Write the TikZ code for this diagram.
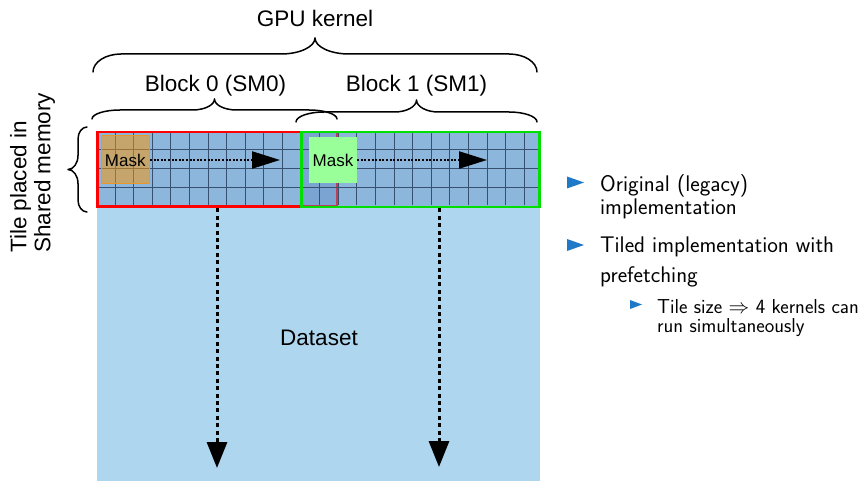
\documentclass[tikz,border=0pt]{standalone}
\usepackage{fontspec}
\setmainfont{Liberation Sans}
\usetikzlibrary{arrows.meta}
\definecolor{datacol}{RGB}{174,214,238}
\definecolor{tilecol}{RGB}{102,144,199}
\definecolor{gridcol}{RGB}{55,80,112}
\definecolor{redcol}{RGB}{255,0,0}
\definecolor{greencol}{RGB}{0,224,0}
\definecolor{orangecol}{RGB}{255,150,0}
\definecolor{orangeedge}{RGB}{235,150,40}
\definecolor{lightgreen}{RGB}{153,255,153}
\definecolor{bulcol}{RGB}{30,122,200}
\newcommand\mybraceh[7]{%
 \draw[brc] (#1,#3) .. controls (#1,{#3-0.55*(#3-#4)}) and ({#1+0.45*#6},#4) .. ({#1+#6},#4)
  -- ({(#1+#2)/2-#7},#4) .. controls ({(#1+#2)/2-0.45*#7},#4) and ({(#1+#2)/2},{#4-0.45*(#4-#5)}) .. ({(#1+#2)/2},#5)
  .. controls ({(#1+#2)/2},{#4-0.45*(#4-#5)}) and ({(#1+#2)/2+0.45*#7},#4) .. ({(#1+#2)/2+#7},#4)
  -- ({#2-#6},#4) .. controls ({#2-0.45*#6},#4) and (#2,{#3-0.55*(#3-#4)}) .. (#2,#3);}
\newcommand\mybracev[7]{%
 \draw[brc] (#3,#1) .. controls ({#3-0.55*(#3-#4)},#1) and (#4,{#1+0.45*#6}) .. (#4,{#1+#6})
  -- (#4,{(#1+#2)/2-#7}) .. controls (#4,{(#1+#2)/2-0.45*#7}) and ({#4-0.45*(#4-#5)},{(#1+#2)/2}) .. (#5,{(#1+#2)/2})
  .. controls ({#4-0.45*(#4-#5)},{(#1+#2)/2}) and (#4,{(#1+#2)/2+0.45*#7}) .. (#4,{(#1+#2)/2+#7})
  -- (#4,{#2-#6}) .. controls (#4,{#2-0.45*#6}) and ({#3-0.55*(#3-#4)},#2) .. (#3,#2);}
\begin{document}
\begin{tikzpicture}[x=1pt,y=-1pt,
  lbl/.style={font=\fontsize{22.5}{24}\selectfont, inner sep=0pt},
  masklbl/.style={font=\fontsize{17}{19}\selectfont, inner sep=0pt},
  brc/.style={line width=1.5pt, line cap=round, line join=round},
  gridline/.style={draw=gridcol, line width=0.9pt},
  dotarrow/.style={line width=2.2pt, dash pattern=on 2pt off 1.6pt, -{Triangle[length=28pt,width=17pt]}},
  dasharrow/.style={line width=3pt, dash pattern=on 4pt off 3.4pt, -{Triangle[length=26pt,width=20pt]}},
  btext/.style={font=\sffamily\fontsize{22.6}{26}\selectfont, inner sep=0pt, anchor=base west},
  stext/.style={font=\sffamily\fontsize{20.2}{22}\selectfont, inner sep=0pt, anchor=base west},
  bul/.style={fill=bulcol}]
\useasboundingbox (0,0) rectangle (868,481);
% dataset background
\fill[datacol] (97,131) rectangle (539.5,481);
% block 0 tile
\fill[tilecol, fill opacity=0.455] (97,132) rectangle (337,206.5);
\draw[redcol, line width=2.6pt] (97.2,132) rectangle (337,206.3);
% block 1 tile
\fill[tilecol, fill opacity=0.455] (301.3,132) rectangle (539.5,206.5);
% grid
\begin{scope}
\clip (98.5,133.3) rectangle (538.3,205);
\foreach \i in {1,...,23} \draw[gridline] ({96.5+18.6*\i},131) -- ({96.5+18.6*\i},207);
\foreach \yy in {149.7,168.4,187.1} \draw[gridline] (97,\yy) -- (540,\yy);
\end{scope}
\draw[greencol, line width=2.6pt] (301.3,132) rectangle (539.7,207);
% masks
\node[masklbl, minimum width=48.5pt, minimum height=48pt, fill=orangecol, fill opacity=0.5, text opacity=1, draw=orangeedge, line width=1pt] (mask0) at (125.3,160) {Mask};
\node[masklbl, minimum width=48pt, minimum height=46pt, fill=lightgreen] (mask1) at (333,160) {Mask};
\coordinate (a0end) at (280,160);
\coordinate (a1end) at (487,160);
\draw[dotarrow] (mask0.east) -- (a0end);
\draw[dotarrow] (mask1.east) -- (a1end);
% vertical arrows
\coordinate (v0s) at (217,208.5);
\coordinate (v0e) at (217,468);
\coordinate (v1s) at (439,208.5);
\coordinate (v1e) at (439,467);
\draw[dasharrow] (v0s) -- (v0e);
\draw[dasharrow] (v1s) -- (v1e);
% labels
\node[lbl, anchor=base] (gpu) at (315,27) {GPU kernel};
\node[lbl, anchor=base] (b0) at (215.5,92) {Block 0 (SM0)};
\node[lbl, anchor=base] (b1) at (416.5,92) {Block 1 (SM1)};
\node[lbl, anchor=base] (ds) at (319,345) {Dataset};
\node[lbl, rotate=90, anchor=west, align=left] (tile) at (32.5,253) {Tile placed in\\Shared memory};
% braces
\mybraceh{93}{537}{72}{54}{38}{28}{34}
\mybraceh{92}{337}{119}{110}{99}{28}{22}
\mybraceh{296}{537}{122}{112}{100}{28}{22}
\mybracev{127}{212}{87}{78}{68}{12}{14}
% bullets
\fill[bul] (567,176.5) -- (584,182.5) -- (567,188.5) -- cycle;
\fill[bul] (567,239) -- (584,245) -- (567,251) -- cycle;
\fill[bul] (630,300) -- (642,304.5) -- (630,309) -- cycle;
\node[btext] (t1) at (600,192) {Original (legacy)};
\node[btext] (t2) at (600,215) {implementation};
\node[btext] (t3) at (600,253) {Tiled implementation with};
\node[btext] (t4) at (600,283) {prefetching};
\node[stext] (t5) at (657,313) {Tile size $\Rightarrow$ 4 kernels can};
\node[stext] (t6) at (657,333) {run simultaneously};
\end{tikzpicture}
\end{document}
